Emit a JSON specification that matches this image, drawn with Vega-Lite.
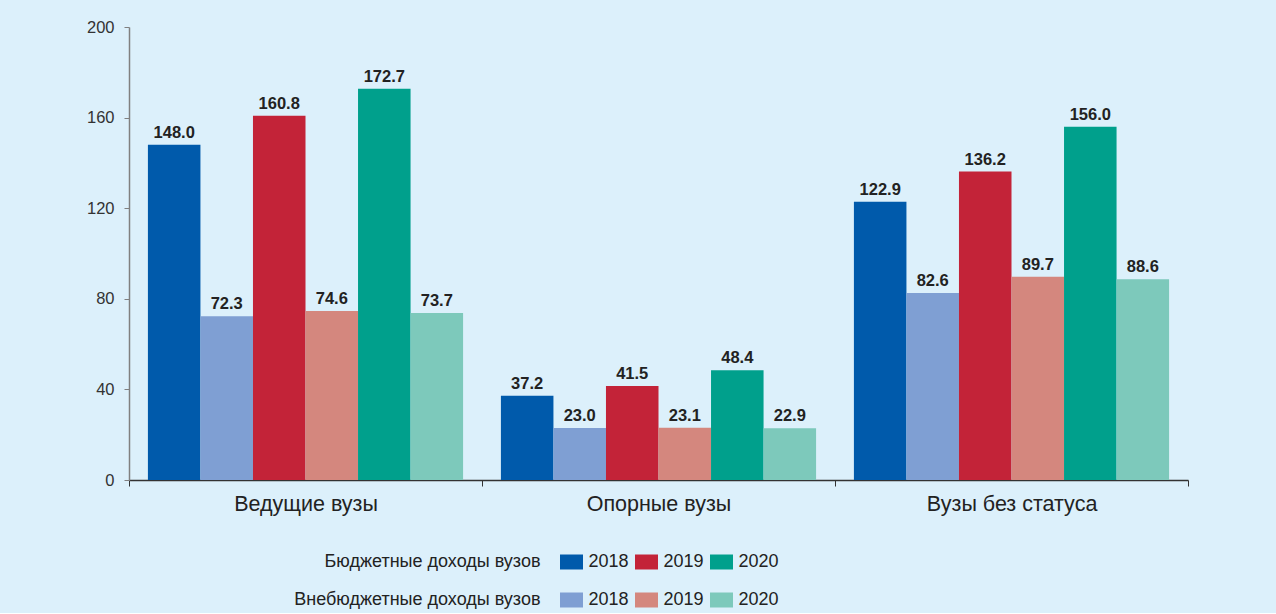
{
  "$schema": "https://vega.github.io/schema/vega-lite/v6.json",
  "background": "#dcf0fb",
  "padding": {"left": 86, "top": 19, "right": 90, "bottom": 4},
  "bounds": "flush",
  "spacing": 82,
  "config": {
    "view": {"stroke": null},
    "font": "Liberation Sans, Arial, sans-serif"
  },
  "vconcat": [
    {
      "width": 1059,
      "height": 453,
      "data": {
        "values": [
          {"group": "Ведущие вузы", "key": "Б2018", "value": 148.0},
          {"group": "Ведущие вузы", "key": "В2018", "value": 72.3},
          {"group": "Ведущие вузы", "key": "Б2019", "value": 160.8},
          {"group": "Ведущие вузы", "key": "В2019", "value": 74.6},
          {"group": "Ведущие вузы", "key": "Б2020", "value": 172.7},
          {"group": "Ведущие вузы", "key": "В2020", "value": 73.7},
          {"group": "Опорные вузы", "key": "Б2018", "value": 37.2},
          {"group": "Опорные вузы", "key": "В2018", "value": 23.0},
          {"group": "Опорные вузы", "key": "Б2019", "value": 41.5},
          {"group": "Опорные вузы", "key": "В2019", "value": 23.1},
          {"group": "Опорные вузы", "key": "Б2020", "value": 48.4},
          {"group": "Опорные вузы", "key": "В2020", "value": 22.9},
          {"group": "Вузы без статуса", "key": "Б2018", "value": 122.9},
          {"group": "Вузы без статуса", "key": "В2018", "value": 82.6},
          {"group": "Вузы без статуса", "key": "Б2019", "value": 136.2},
          {"group": "Вузы без статуса", "key": "В2019", "value": 89.7},
          {"group": "Вузы без статуса", "key": "Б2020", "value": 156.0},
          {"group": "Вузы без статуса", "key": "В2020", "value": 88.6}
        ]
      },
      "encoding": {
        "x": {
          "field": "group",
          "type": "nominal",
          "sort": ["Ведущие вузы", "Опорные вузы", "Вузы без статуса"],
          "scale": {"paddingInner": 0, "paddingOuter": 0},
          "axis": {
            "title": null,
            "labelAngle": 0,
            "labelFontSize": 21.5,
            "labelColor": "#222222",
            "labelPadding": 7,
            "tickBand": "extent",
            "tickSize": 6,
            "tickColor": "#333333",
            "domainColor": "#333333",
            "domainWidth": 1.5,
            "grid": false
          }
        },
        "xOffset": {
          "field": "key",
          "type": "nominal",
          "sort": ["Б2018", "В2018", "Б2019", "В2019", "Б2020", "В2020"],
          "scale": {"paddingInner": 0, "paddingOuter": 0.36}
        },
        "y": {
          "field": "value",
          "type": "quantitative",
          "scale": {"domain": [0, 200], "nice": false},
          "axis": {
            "title": null,
            "values": [0, 40, 80, 120, 160, 200],
            "grid": false,
            "labelFontSize": 16.5,
            "labelColor": "#333333",
            "labelPadding": 10,
            "tickSize": 5,
            "tickColor": "#808080",
            "domainColor": "#808080",
            "domainWidth": 1.5
          }
        }
      },
      "layer": [
        {
          "mark": {"type": "bar"},
          "encoding": {
            "fill": {
              "field": "key",
              "type": "nominal",
              "scale": {
                "domain": ["Б2018", "В2018", "Б2019", "В2019", "Б2020", "В2020"],
                "range": ["#005aab", "#7f9fd3", "#c32338", "#d4877e", "#00a08c", "#7dc9bb"]
              },
              "legend": null
            }
          }
        },
        {
          "mark": {
            "type": "text",
            "baseline": "alphabetic",
            "dy": -7,
            "fontWeight": "bold",
            "fontSize": 16.5,
            "color": "#222222"
          },
          "encoding": {
            "text": {"field": "value", "type": "quantitative", "format": ".1f"}
          }
        }
      ]
    },
    {
      "width": 1059,
      "height": 38,
      "data": {
        "values": [
          {"row": "Бюджетные доходы вузов", "year": "2018", "key": "Б2018"},
          {"row": "Бюджетные доходы вузов", "year": "2019", "key": "Б2019"},
          {"row": "Бюджетные доходы вузов", "year": "2020", "key": "Б2020"},
          {"row": "Внебюджетные доходы вузов", "year": "2018", "key": "В2018"},
          {"row": "Внебюджетные доходы вузов", "year": "2019", "key": "В2019"},
          {"row": "Внебюджетные доходы вузов", "year": "2020", "key": "В2020"}
        ]
      },
      "layer": [
        {
          "mark": {
            "type": "point",
            "shape": "M-1,-0.652H1V0.652H-1Z",
            "size": 529,
            "filled": true,
            "opacity": 1,
            "strokeWidth": 0
          },
          "encoding": {
            "x": {"field": "year", "type": "ordinal", "scale": {"type": "point", "padding": 0, "range": [442.5, 592.5]}, "axis": null},
            "y": {"field": "row", "type": "nominal", "sort": ["Бюджетные доходы вузов", "Внебюджетные доходы вузов"], "scale": {"type": "point", "padding": 0}, "axis": null},
            "fill": {
              "field": "key",
              "type": "nominal",
              "scale": {
                "domain": ["Б2018", "В2018", "Б2019", "В2019", "Б2020", "В2020"],
                "range": ["#005aab", "#7f9fd3", "#c32338", "#d4877e", "#00a08c", "#7dc9bb"]
              },
              "legend": null
            }
          }
        },
        {
          "mark": {"type": "text", "align": "left", "baseline": "middle", "dx": 17, "fontSize": 18, "color": "#222222"},
          "encoding": {
            "x": {"field": "year", "type": "ordinal", "scale": {"type": "point", "padding": 0, "range": [442.5, 592.5]}, "axis": null},
            "y": {"field": "row", "type": "nominal", "sort": ["Бюджетные доходы вузов", "Внебюджетные доходы вузов"], "scale": {"type": "point", "padding": 0}, "axis": null},
            "text": {"field": "year"}
          }
        },
        {
          "data": {
            "values": [
              {"row": "Бюджетные доходы вузов"},
              {"row": "Внебюджетные доходы вузов"}
            ]
          },
          "mark": {"type": "text", "align": "right", "baseline": "middle", "dx": -31, "fontSize": 18, "color": "#222222"},
          "encoding": {
            "x": {"datum": "2018", "type": "ordinal", "scale": {"type": "point", "padding": 0, "range": [442.5, 592.5]}, "axis": null},
            "y": {"field": "row", "type": "nominal", "sort": ["Бюджетные доходы вузов", "Внебюджетные доходы вузов"], "scale": {"type": "point", "padding": 0}, "axis": null},
            "text": {"field": "row"}
          }
        }
      ]
    }
  ]
}
